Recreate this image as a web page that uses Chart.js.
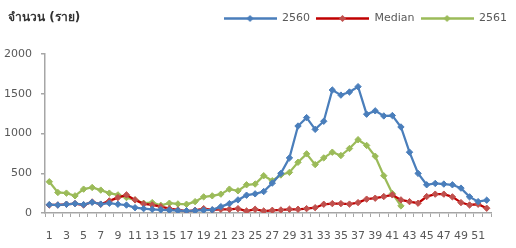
<!DOCTYPE html>
<html>
<head>
<meta charset="utf-8">
<script src="https://cdn.jsdelivr.net/npm/chart.js@4"></script>
<style>
html,body{margin:0;padding:0;background:#fff;}
#wrap{width:516px;height:248px;}
</style>
</head>
<body>
<div id="wrap"><canvas id="c" width="516" height="248"></canvas></div>
<script>
const weeks = Array.from({length: 52}, (_, i) => String(i + 1));
const yTicks = [0, 500, 1000, 1500, 2000];
const yAxisTitle = "จำนวน (ราย)";
const seriesNames = ["2560", "Median", "2561"];

const y2560 = [105, 100, 110, 118, 105, 135, 112, 123, 110, 100, 67, 55, 47, 40, 35, 30,
  28, 30, 35, 40, 80, 118, 165, 224, 241, 270, 376, 498, 693, 1094, 1200, 1052,
  1154, 1547, 1483, 1522, 1589, 1243, 1285, 1221, 1226, 1082, 765, 498, 355, 372,
  364, 355, 313, 203, 143, 161];
const yMedian = [101, 101, 110, 118, 101, 139, 110, 152, 194, 228, 165, 115, 101, 80, 55, 38,
  25, 34, 55, 38, 47, 47, 55, 25, 47, 25, 34, 38, 47, 47, 55, 67,
  110, 118, 118, 112, 131, 174, 186, 207, 228, 165, 143, 123, 207, 237,
  237, 203, 131, 101, 110, 60];
const y2561 = [393, 258, 250, 216, 300, 321, 288, 250, 228, 194, 165, 123, 131, 97, 123, 114,
  110, 143, 203, 216, 237, 300, 279, 355, 364, 469, 406, 478, 511, 638, 744, 609,
  693, 765, 723, 811, 922, 850, 714, 469, 245, 89];

const colors = {
  s2560: {line: '#4A7EBB', point: '#4A7EBB'},
  median: {line: '#C00000', point: '#C0504D'},
  s2561: {line: '#9BBB59', point: '#9BBB59'}
};
const FONT = '"DejaVu Sans", Verdana, sans-serif';
const TXT = '#595959';

function legendIcon(lineColor, pointColor) {
  const cv = document.createElement('canvas');
  cv.width = 53; cv.height = 9;
  const g = cv.getContext('2d');
  g.strokeStyle = lineColor; g.lineWidth = 2.5;
  g.beginPath(); g.moveTo(0, 4.5); g.lineTo(53, 4.5); g.stroke();
  g.fillStyle = pointColor;
  g.beginPath(); g.moveTo(26.5, 1); g.lineTo(30, 4.5); g.lineTo(26.5, 8); g.lineTo(23, 4.5); g.closePath(); g.fill();
  return cv;
}

const titlePlugin = {
  id: 'ytitle',
  afterInit(chart) {
    const lg = chart.legend;
    const origFit = lg.fit;
    lg.fit = function() { origFit.call(this); this.height = 47; };
  },
  afterDraw(chart) {
    const ctx = chart.ctx;
    ctx.save();
    ctx.font = 'bold 12px Tahoma, "DejaVu Sans", sans-serif';
    ctx.fillStyle = '#333333';
    ctx.textBaseline = 'middle';
    ctx.textAlign = 'left';
    ctx.fillText(yAxisTitle, 8, 18);
    ctx.restore();
  }
};

function ds(label, data, c) {
  return {
    label, data, yAxisID: 'y',
    borderColor: c.line, backgroundColor: c.point,
    pointBackgroundColor: c.point, pointBorderColor: c.point,
    borderWidth: 2.25, pointStyle: 'rectRot', pointRadius: 3.2, pointBorderWidth: 1,
    tension: 0, fill: false
  };
}

const icons = [legendIcon(colors.s2560.line, colors.s2560.point),
               legendIcon(colors.median.line, colors.median.point),
               legendIcon(colors.s2561.line, colors.s2561.point)];

new Chart(document.getElementById('c'), {
  type: 'line',
  data: {
    labels: weeks,
    datasets: [
      ds(seriesNames[0], y2560, colors.s2560),
      ds(seriesNames[1], yMedian, colors.median),
      ds(seriesNames[2], y2561, colors.s2561)
    ]
  },
  options: {
    responsive: false,
    animation: false,
    layout: {padding: {left: 4, right: 3, top: 7, bottom: 5}},
    plugins: {
      tooltip: {enabled: false},
      legend: {
        position: 'top', align: 'end',
        labels: {
          usePointStyle: true, pointStyleWidth: 53,
          font: {size: 11, family: FONT},
          color: TXT, padding: 6, boxHeight: 9,
          generateLabels(chart) {
            return chart.data.datasets.map((d, i) => ({
              text: d.label, pointStyle: icons[i], fillStyle: d.borderColor,
              strokeStyle: d.borderColor, lineWidth: 0, hidden: false, datasetIndex: i, fontColor: TXT
            }));
          }
        }
      }
    },
    scales: {
      x: {
        offset: true,
        afterFit(axis) { axis.height = 30; },
        grid: {display: true, drawOnChartArea: false, offset: true, tickLength: 4, color: '#A6A6A6', lineWidth: 1},
        border: {display: true, color: '#A6A6A6', width: 1.5},
        ticks: {
          autoSkip: false, maxRotation: 0, padding: 13, color: TXT,
          font: {size: 11, family: FONT},
          callback(v, i) { return i % 2 === 0 ? weeks[i] : ''; }
        }
      },
      y: {
        position: 'left',
        min: yTicks[0], max: yTicks[yTicks.length - 1],
        afterFit(axis) { axis.width = 41; },
        afterBuildTicks(axis) { axis.ticks = yTicks.map(v => ({value: v})); },
        grid: {display: true, drawOnChartArea: false, tickLength: 4, color: '#A6A6A6', lineWidth: 1.5},
        border: {display: true, color: '#A6A6A6', width: 1.5},
        ticks: {
          padding: 9, color: TXT,
          font: {size: 11, family: FONT},
          callback(v) { return String(v); }
        }
      },
      y2: {
        position: 'right', display: true,
        grid: {display: false}, border: {display: false}, ticks: {display: false},
        afterFit(axis) { axis.width = 22; }
      }
    }
  },
  plugins: [titlePlugin]
});
</script>
</body>
</html>
